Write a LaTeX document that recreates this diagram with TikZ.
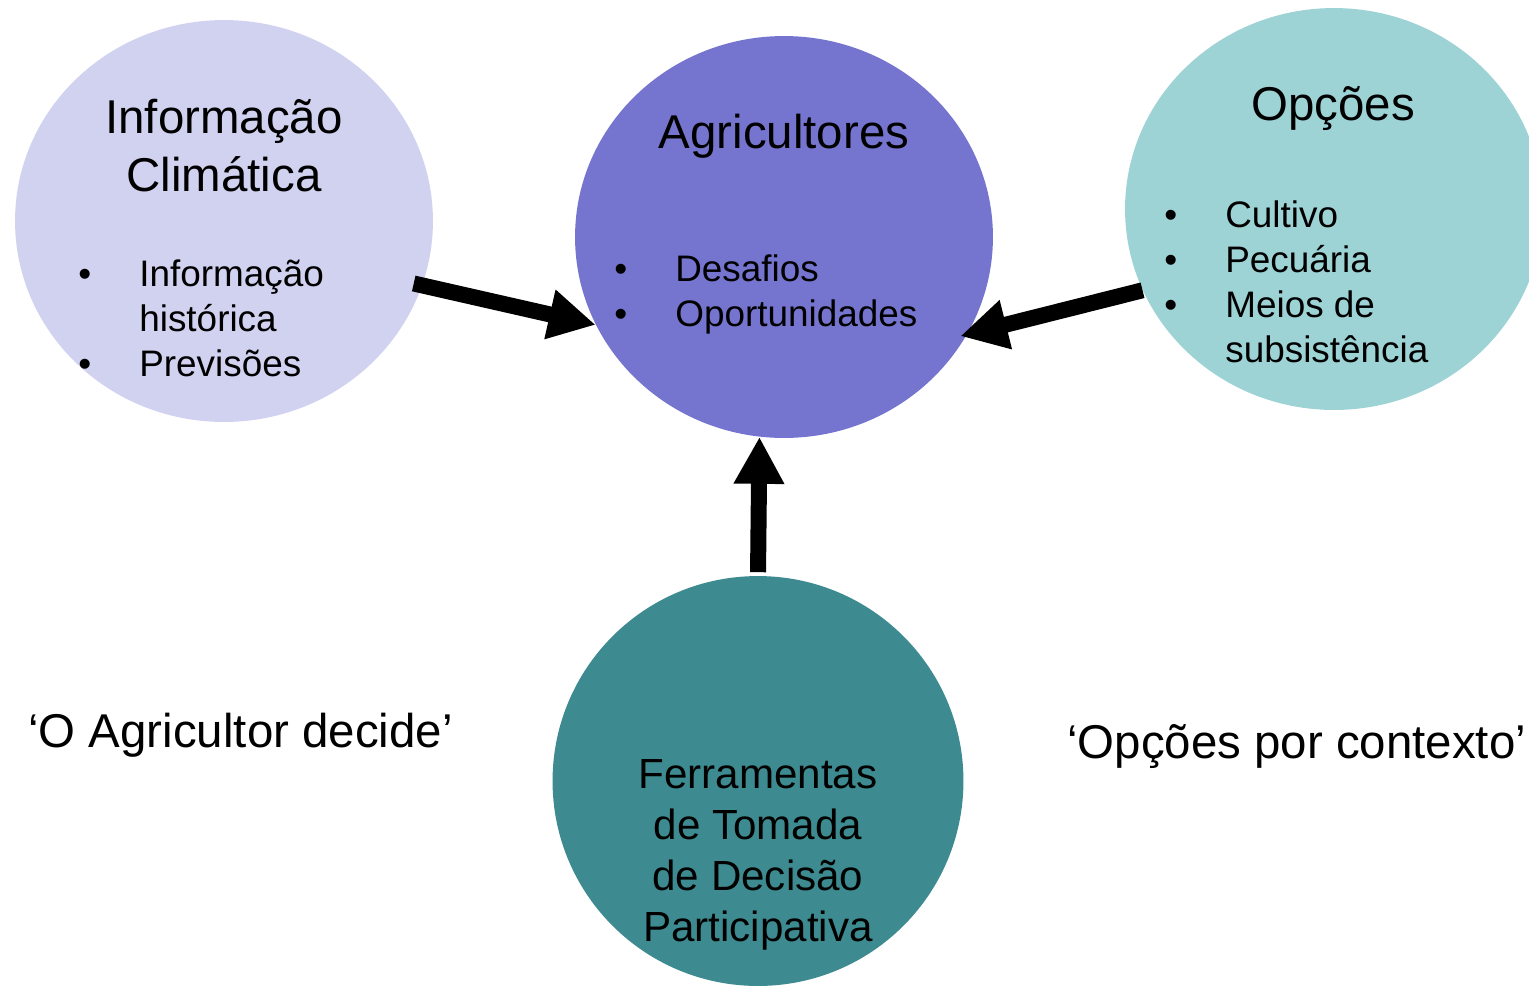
\documentclass[tikz,border=0pt]{standalone}
\usepackage{fontspec}
\setmainfont{Liberation Sans}
\usetikzlibrary{shapes.geometric,arrows.meta}

\definecolor{lilasclaro}{HTML}{D1D1F0}
\definecolor{roxo}{HTML}{7575CF}
\definecolor{turquesa}{HTML}{9ED3D6}
\definecolor{petroleo}{HTML}{3D8B90}

\tikzset{
  circulo/.style={ellipse, minimum width=8.36cm, minimum height=8.04cm, inner sep=0pt},
  seta/.style={line width=9.1pt, -{Triangle[length=26.7pt,width=27pt]}},
  titulo/.style={font=\fontsize{27}{33}\selectfont, align=center, anchor=base},
  lista/.style={font=\fontsize{21}{25.5}\selectfont, align=left, anchor=base west, inner sep=0pt},
}
\newcommand{\marca}{\makebox[1.22cm][l]{•}}
\newcommand{\recuo}{\hspace*{1.22cm}}

\begin{document}
\begin{tikzpicture}[x=0.02cm, y=-0.02cm]
  % Moldura
  \useasboundingbox (0,0) rectangle (1529,985);
  \clip (0,0) rectangle (1529,985);

  % Circulos
  \node[circulo, fill=lilasclaro] (clima) at (224,221) {};
  \node[circulo, fill=roxo] (agri) at (784,237) {};
  \node[circulo, fill=turquesa] (opcoes) at (1334,209) {};
  \node[circulo, fill=petroleo, minimum width=8.22cm, minimum height=8.2cm] (ferr) at (758,781) {};

  % Setas
  \draw[seta, shorten <=-5pt] (clima.-18) -- (agri.205);
  \draw[seta, shorten >=-4pt] (opcoes.203) -- (agri.-28);
  \draw[seta, shorten <=2pt] (ferr.north) -- (agri.-97);

  % Textos dos circulos (base = ultima linha)
  \node[titulo] (tclima) at (224,191) {Informação\\Climática};
  \node[lista] (lclima) at (78,376) {\marca Informação\\\recuo histórica\\\marca Previsões};

  \node[titulo] (tagri) at (784,148) {Agricultores};
  \node[lista] (lagri) at (614,326) {\marca Desafios\\\marca Oportunidades};

  \node[titulo] (topcoes) at (1333,120) {Opções};
  \node[lista] (lopcoes) at (1164,362) {\marca Cultivo\\\marca Pecuária\\\marca Meios de\\\recuo subsistência};

  \node[font=\fontsize{24}{29}\selectfont, align=center, anchor=base] (tferr) at (758,941)
    {Ferramentas\\de Tomada\\de Decisão\\Participativa};

  % Frases
  \node[titulo, anchor=base west, inner sep=0pt] (decide) at (28,747) {‘O Agricultor decide’};
  \node[titulo, anchor=base west, inner sep=0pt] (contexto) at (1067,758) {‘Opções por contexto’};
\end{tikzpicture}
\end{document}
